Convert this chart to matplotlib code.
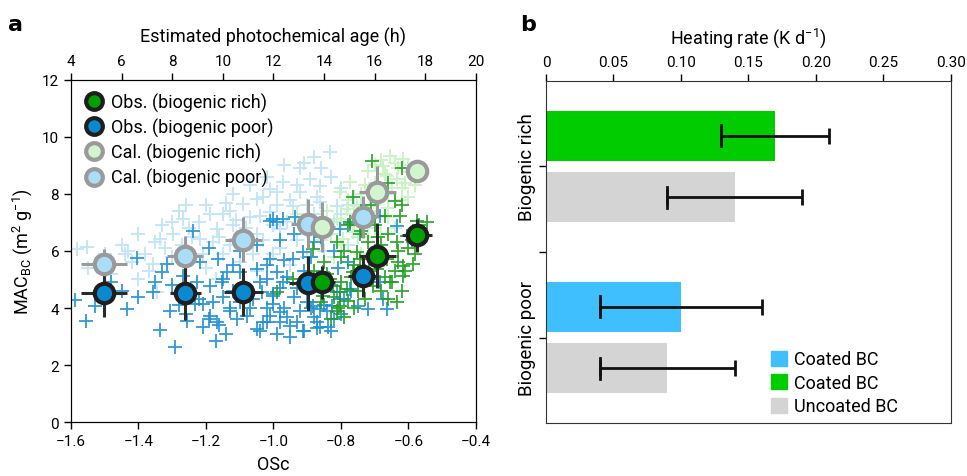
import numpy as np
import matplotlib
matplotlib.use("Agg")
import matplotlib.pyplot as plt
from matplotlib.lines import Line2D
from matplotlib.patches import Patch

plt.rcParams['font.family'] = ['Roboto', 'DejaVu Sans']
plt.rcParams['mathtext.fontset'] = 'custom'
plt.rcParams['mathtext.rm'] = 'Roboto'

# ---------------- panel a data (OSc, MAC_BC) ----------------
# scatter clouds
obs_poor_x = [-1.588, -1.556, -1.529, -1.434, -1.404, -1.336, -1.357, -1.316, -1.307, -1.292,
              -1.330, -1.256, -1.233, -1.209, -1.218, -1.188, -1.170, -1.164, -1.138, -1.167,
              -1.129, -1.108, -1.079, -1.049, -1.019, -1.010, -1.049, -1.001, -1.019, -1.034,
              -1.209, -1.188, -1.268, -1.227, -1.150, -1.153, -1.099, -0.990, -1.001, -0.981,
              -0.951, -0.930, -0.913, -0.862, -0.839, -0.972, -0.942, -0.883, -0.862, -0.827,
              -0.812, -0.803, -0.773, -0.750, -0.720, -0.684, -0.676, -1.010, -0.981, -0.913,
              -0.853, -0.744, -0.664, -1.001, -0.972, -0.936, -0.803, -0.773, -0.634, -0.684,
              -1.239, -1.010, -0.990, -1.15, -1.12, -1.06, -1.04, -0.98, -0.96, -0.94,
              -0.92, -0.90, -0.88, -0.86, -0.84, -0.82, -0.80, -0.96, -1.02, -1.08,
              -1.13, -1.19, -1.24, -1.28, -1.30, -1.25, -1.19, -1.10, -1.05, -0.98,
              -0.94, -0.88, -0.82, -0.78, -0.75,
              -1.26, -1.22, -1.18, -1.16, -1.14, -1.10, -1.07, -1.03, -1.00, -0.97,
              -0.95, -0.93, -0.91, -0.89, -0.87, -0.85, -0.83, -0.81, -0.79, -0.77,
              -1.12, -1.02, -0.97, -0.89, -0.86, -1.35, -1.40, -1.45, -1.48, -0.91,
              -0.99, -1.04, -0.83, -0.87]
obs_poor_y = [4.28, 3.54, 4.07, 3.96, 5.75, 3.23, 4.56, 5.54, 3.89, 2.63,
              5.26, 3.54, 4.14, 3.33, 5.61, 4.77, 2.84, 5.72, 5.26, 3.51,
              3.89, 3.61, 3.72, 3.26, 3.51, 5.72, 5.37, 4.14, 5.02, 4.56,
              4.14, 3.72, 5.12, 4.91, 4.39, 4.91, 5.26, 5.26, 4.42, 3.86,
              3.37, 3.51, 3.19, 3.33, 3.33, 4.91, 5.72, 4.07, 3.96, 4.07,
              4.56, 4.32, 4.67, 4.07, 3.96, 4.91, 4.32, 3.72, 3.51, 5.96,
              5.26, 5.02, 3.96, 7.12, 7.12, 7.19, 6.77, 6.95, 6.88, 7.23,
              6.70, 7.05, 7.02, 5.0, 4.6, 4.3, 4.9, 4.7, 5.1, 4.4,
              3.9, 4.2, 3.7, 4.6, 3.9, 3.6, 3.8, 3.7, 4.0, 4.7,
              4.0, 3.6, 4.5, 4.1, 4.8, 5.9, 6.1, 6.0, 6.2, 6.4,
              6.6, 6.3, 6.0, 5.6, 5.3,
              3.8, 4.3, 4.2, 3.4, 3.1, 4.2, 4.0, 3.5, 4.5, 4.0,
              3.0, 4.7, 5.3, 4.0, 3.5, 4.1, 4.8, 5.4, 4.3, 4.6,
              5.5, 5.5, 5.7, 5.8, 6.5, 4.9, 4.4, 4.6, 4.9, 3.2,
              3.1, 3.2, 3.2, 3.3]

obs_rich_x = [-0.708, -0.619, -0.640, -0.764, -0.670, -0.625, -0.744, -0.773, -0.545, -0.575,
              -0.812, -0.604, -0.634, -0.587, -0.616, -0.616, -0.655, -0.661, -0.634, -0.764,
              -0.782, -0.803, -0.812, -0.833, -0.883, -0.942, -0.990, -0.779, -0.714, -0.705,
              -0.693, -0.664, -0.684, -0.729, -0.803, -0.824, -0.853, -0.744, -0.753, -0.70,
              -0.68, -0.66, -0.63, -0.60, -0.58, -0.72, -0.76, -0.73, -0.68, -0.64,
              -0.62, -0.70, -0.66, -0.62, -0.74, -0.78, -0.80, -0.85, -0.88, -0.90,
              -0.86, -0.83, -0.79, -0.76,
              -0.82, -0.80, -0.77, -0.75, -0.72, -0.70, -0.67, -0.65, -0.63, -0.61,
              -0.59, -0.57, -0.69, -0.71, -0.74, -0.79, -0.84, -0.87, -0.81]
obs_rich_y = [9.16, 8.91, 7.75, 7.89, 7.23, 7.23, 6.60, 7.02, 7.02, 7.05,
              6.32, 6.53, 6.32, 5.54, 5.47, 5.12, 4.91, 4.32, 4.21, 5.26,
              4.67, 4.07, 3.89, 5.02, 6.07, 5.02, 4.56, 4.25, 5.02, 4.77,
              5.37, 5.72, 5.96, 4.32, 4.56, 4.77, 4.42, 5.72, 5.96, 6.9,
              6.2, 6.6, 6.0, 6.1, 5.9, 6.3, 5.5, 5.3, 4.6, 5.3,
              4.6, 8.0, 8.4, 7.6, 7.4, 6.9, 5.8, 5.6, 5.3, 4.7,
              4.2, 3.6, 3.7, 4.0,
              4.4, 4.9, 5.1, 4.6, 5.0, 5.5, 5.1, 4.9, 5.6, 5.3,
              6.4, 6.9, 6.5, 7.6, 6.7, 6.0, 5.2, 4.8, 4.0]

cal_poor_x = [-1.582, -1.553, -1.431, -1.401, -1.357, -1.345, -1.268, -1.298, -1.188, -1.129,
              -1.090, -1.049, -1.010, -1.040, -1.167, -1.218, -1.336, -1.108, -0.833, -0.972,
              -0.892, -0.921, -0.862, -0.990, -0.942, -0.862, -0.812, -0.981, -1.010, -0.75,
              -0.72, -0.78, -0.85, -0.90, -0.95, -1.00, -1.05, -1.12, -1.15, -1.20,
              -1.25, -1.30, -1.38, -1.45, -1.50, -1.48, -1.55, -1.02, -0.97, -0.92,
              -0.88, -0.82, -0.78, -1.07, -1.14, -1.18, -1.22, -1.28, -1.32, -1.40,
              -1.42, -1.10, -0.98, -0.93, -0.86, -0.72, -0.76, -0.80, -0.96, -1.05,
              -1.17,
              -1.35, -1.33, -1.27, -1.24, -1.21, -1.16, -1.13, -1.11, -1.08, -1.06,
              -1.03, -1.00, -0.99, -0.95, -0.93, -0.90, -0.87, -0.84, -0.83, -0.80,
              -0.77, -0.74, -1.37, -1.44, -1.30, -1.26, -1.20, -1.15, -1.12, -1.07,
              -1.03, -0.91, -0.86, -0.88]
cal_poor_y = [6.07, 6.14, 6.00, 5.02, 5.54, 4.56, 7.12, 6.60, 7.30, 7.40,
              7.65, 7.82, 8.18, 7.23, 6.77, 6.42, 6.42, 6.42, 9.47, 8.42,
              8.53, 8.07, 8.28, 8.07, 7.58, 7.72, 7.58, 6.77, 7.37, 6.5,
              6.8, 6.2, 6.0, 5.8, 5.5, 5.9, 6.6, 6.9, 5.9, 5.4,
              6.8, 5.8, 5.9, 6.2, 5.9, 5.2, 5.4, 8.6, 9.0, 8.9,
              7.3, 7.0, 7.6, 7.2, 7.7, 6.3, 7.0, 7.4, 6.1, 6.6,
              5.6, 5.6, 6.1, 6.4, 6.6, 7.3, 7.9, 8.2, 7.0, 5.3,
              5.0,
              6.3, 6.9, 6.2, 6.5, 5.9, 6.5, 6.2, 7.1, 6.8, 5.9,
              6.4, 6.9, 7.6, 7.8, 8.3, 7.6, 7.9, 6.9, 8.6, 7.3,
              7.1, 7.6, 5.3, 5.9, 7.0, 7.6, 7.6, 7.3, 8.0, 8.3,
              7.9, 9.1, 8.9, 9.3]

cal_rich_x = [-0.803, -0.782, -0.812, -0.753, -0.714, -0.684, -0.634, -0.616, -0.655, -0.676,
              -0.596, -0.664, -0.794, -0.764, -0.853, -0.824, -0.735, -0.773, -0.70, -0.66,
              -0.62, -0.60, -0.58, -0.64, -0.68, -0.72, -0.74, -0.78, -0.84, -0.88,
              -0.86, -0.80, -0.76, -0.70, -0.66, -0.62, -0.72, -0.90, -0.93, -0.82,
              -0.78, -0.74, -0.68, -0.64,
              -0.70, -0.67, -0.63, -0.61, -0.65, -0.69, -0.73, -0.76, -0.80, -0.83,
              -0.70, -0.66, -0.60, -0.58]
cal_rich_y = [8.07, 7.47, 7.12, 7.58, 7.58, 7.82, 8.53, 9.23, 9.33, 8.98,
              8.77, 8.63, 6.42, 6.67, 7.02, 6.77, 7.02, 8.42, 8.4, 8.0,
              8.2, 9.0, 8.6, 9.1, 9.2, 8.8, 8.0, 7.8, 7.4, 7.0,
              6.4, 6.2, 6.9, 7.2, 7.5, 7.8, 6.5, 6.7, 7.3, 5.8,
              5.6, 5.9, 6.6, 6.8,
              9.0, 8.7, 8.9, 8.4, 8.2, 7.9, 8.3, 7.3, 7.0, 6.6,
              6.8, 7.2, 7.9, 8.3]

# binned means with errors
obs_poor_mx = [-1.502, -1.262, -1.090, -0.899, -0.735]
obs_poor_my = [4.53, 4.53, 4.56, 4.87, 5.12]
obs_poor_ex = [0.068, 0.046, 0.058, 0.055, 0.045]
obs_poor_ey = [0.86, 0.96, 0.83, 0.96, 0.72]

obs_rich_mx = [-0.857, -0.693, -0.575]
obs_rich_my = [4.90, 5.84, 6.56]
obs_rich_ex = [0.04, 0.055, 0.045]
obs_rich_ey = [0.58, 1.14, 0.58]

cal_poor_mx = [-1.502, -1.262, -1.090, -0.899, -0.735]
cal_poor_my = [5.54, 5.82, 6.39, 6.95, 7.19]
cal_poor_ex = [0.067, 0.053, 0.055, 0.05, 0.04]
cal_poor_ey = [0.53, 0.70, 0.79, 0.88, 0.75]

cal_rich_mx = [-0.857, -0.693, -0.575]
cal_rich_my = [6.84, 8.07, 8.81]
cal_rich_ex = [0.04, 0.055, 0.03]
cal_rich_ey = [0.88, 0.91, 0.3]

# ---------------- panel b data ----------------
groups = ['Biogenic rich', 'Biogenic poor']
coated = [0.17, 0.10]
coated_lo = [0.13, 0.04]
coated_hi = [0.21, 0.16]
uncoated = [0.14, 0.09]
uncoated_lo = [0.09, 0.04]
uncoated_hi = [0.19, 0.14]
coated_colors = ['#00CC00', '#40BFFF']
uncoated_color = '#D4D4D4'

fig = plt.figure(figsize=(9.67, 4.77), dpi=100)
ax = fig.add_axes([0.0734, 0.1132, 0.4188, 0.717])
bx = fig.add_axes([0.5646, 0.1111, 0.4188, 0.717])

# ---- panel a ----
c_op, c_or = '#1B8FD2', '#1E9E1E'
c_cp, c_cr = '#C2E5F8', '#C8F3C4'
ax.scatter(cal_poor_x, cal_poor_y, marker='+', s=110, linewidths=1.3, color=c_cp, zorder=1)
ax.scatter(cal_rich_x, cal_rich_y, marker='+', s=110, linewidths=1.3, color=c_cr, zorder=1)
ax.scatter(obs_poor_x, obs_poor_y, marker='+', s=110, linewidths=1.3, color=c_op, alpha=0.9, zorder=2)
ax.scatter(obs_rich_x, obs_rich_y, marker='+', s=110, linewidths=1.3, color=c_or, alpha=0.9, zorder=3)

for mx, my, ex, ey, fc, ec, ebc in [
        (cal_poor_mx, cal_poor_my, cal_poor_ex, cal_poor_ey, '#AADDF8', '#9A9A9A', '#9A9A9A'),
        (cal_rich_mx, cal_rich_my, cal_rich_ex, cal_rich_ey, '#D2F5D0', '#9A9A9A', '#9A9A9A'),
        (obs_poor_mx, obs_poor_my, obs_poor_ex, obs_poor_ey, '#0A88D0', '#1E1E1E', '#2A2A2A'),
        (obs_rich_mx, obs_rich_my, obs_rich_ex, obs_rich_ey, '#00A000', '#1E1E1E', '#2A2A2A')]:
    ax.errorbar(mx, my, xerr=ex, yerr=ey, fmt='none', ecolor=ebc, elinewidth=2.2,
                capsize=0, zorder=4)
    ax.plot(mx, my, 'o', ms=14, mfc=fc, mec=ec, mew=3, zorder=5)

ax.set_xlim(-1.6, -0.4)
ax.set_ylim(0, 12)
ax.set_xticks(np.arange(-1.6, -0.39, 0.2))
ax.set_xticklabels(['\u22121.6', '\u22121.4', '\u22121.2', '\u22121.0', '\u22120.8', '\u22120.6', '\u22120.4'])
ax.set_yticks(range(0, 13, 2))
ax.tick_params(labelsize=11, length=5, width=1, direction='out', right=False)
ax.set_xlabel('OSc', fontsize=13, labelpad=5)
ax.set_ylabel(r'MAC$_{\rm BC}$ (m$^2$ g$^{-1}$)', fontsize=13, labelpad=6)

top = ax.twiny()
top.set_xlim(4, 20)
top.set_xticks(range(4, 21, 2))
top.tick_params(labelsize=11, length=5, width=1)
top.set_xlabel('Estimated photochemical age (h)', fontsize=13, labelpad=9)

handles = [
    Line2D([], [], marker='o', ls='', ms=12, mfc='#00A000', mec='#1E1E1E', mew=3),
    Line2D([], [], marker='o', ls='', ms=12, mfc='#0A88D0', mec='#1E1E1E', mew=3),
    Line2D([], [], marker='o', ls='', ms=12, mfc='#D2F5D0', mec='#9A9A9A', mew=3),
    Line2D([], [], marker='o', ls='', ms=12, mfc='#AADDF8', mec='#9A9A9A', mew=3),
]
ax.legend(handles, ['Obs. (biogenic rich)', 'Obs. (biogenic poor)',
                    'Cal. (biogenic rich)', 'Cal. (biogenic poor)'],
          loc='upper left', frameon=False, fontsize=13, handletextpad=0.3,
          labelspacing=0.33, borderaxespad=0.3, handlelength=1.2)

# ---- panel b ----
centers = [0.25, 0.75]
off = 0.09
h = 0.146
for i in range(len(groups)):
    c = centers[i]
    bx.barh(c - off, coated[i], height=h, color=coated_colors[i], zorder=2)
    bx.barh(c + off, uncoated[i], height=h, color=uncoated_color, zorder=2)
    bx.errorbar(coated_lo[i], c - off, xerr=[[0], [coated_hi[i] - coated_lo[i]]], fmt='none',
                ecolor='#111111', elinewidth=2, capsize=6, capthick=2, zorder=3)
    bx.plot([coated_lo[i]] * 2, [c - off - 0.03, c - off + 0.03], color='#111111', lw=2, zorder=3)
    bx.errorbar(uncoated_lo[i], c + off, xerr=[[0], [uncoated_hi[i] - uncoated_lo[i]]], fmt='none',
                ecolor='#111111', elinewidth=2, capsize=6, capthick=2, zorder=3)
    bx.plot([uncoated_lo[i]] * 2, [c + off - 0.03, c + off + 0.03], color='#111111', lw=2, zorder=3)

bx.set_xlim(0, 0.30)
bx.set_ylim(1, 0)
bx.xaxis.set_ticks_position('top')
bx.xaxis.set_label_position('top')
bx.set_xticks(np.arange(0, 0.301, 0.05))
bx.set_xticklabels(['0', '0.05', '0.10', '0.15', '0.20', '0.25', '0.30'])
bx.set_xlabel(r'Heating rate (K d$^{-1}$)', fontsize=13, labelpad=9)
bx.set_yticks([0.25, 0.5, 0.75])
bx.set_yticklabels(['Biogenic rich', '', 'Biogenic poor'], rotation=90, va='center')
bx.tick_params(labelsize=11, length=5, width=1)
bx.tick_params(axis='y', labelsize=13.5, pad=2)
for s in bx.spines.values():
    s.set_color('#333333')

bx.legend([Patch(color='#40BFFF'), Patch(color='#00CC00'), Patch(color=uncoated_color)],
          ['Coated BC', 'Coated BC', 'Uncoated BC'], loc='lower right', frameon=False,
          fontsize=13, handlelength=0.9, handleheight=0.9, handletextpad=0.4,
          labelspacing=0.3, bbox_to_anchor=(0.91, -0.025))

fig.text(0.008, 0.935, 'a', fontsize=16, fontweight='bold', family='DejaVu Sans')
fig.text(0.538, 0.935, 'b', fontsize=16, fontweight='bold', family='DejaVu Sans')

fig.savefig('out.png', dpi=100)
